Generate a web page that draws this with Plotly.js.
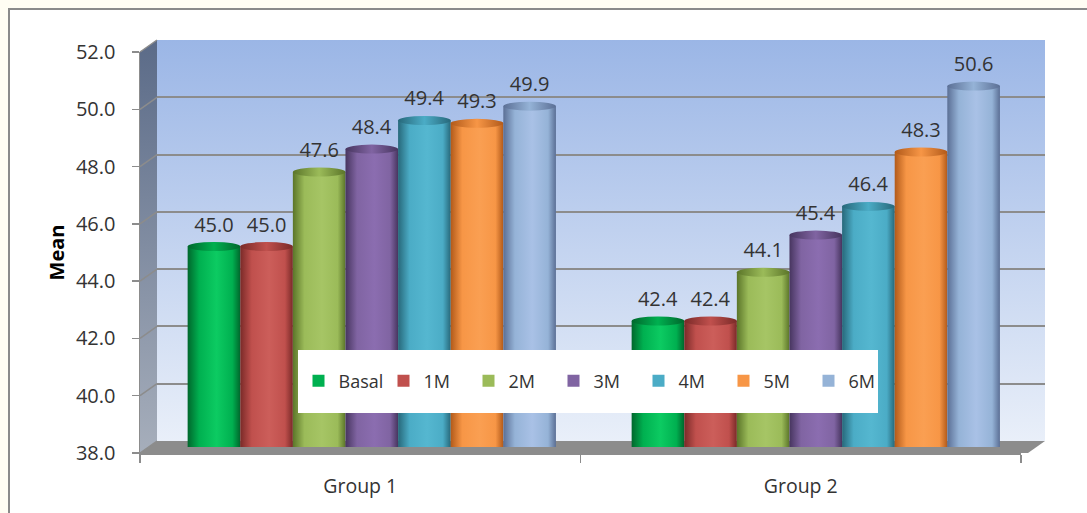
<!DOCTYPE html>
<html>
<head>
<meta charset="utf-8">
<script src="https://cdn.plot.ly/plotly-3.0.1.min.js"></script>
<style>
  html, body { margin: 0; padding: 0; background: #fffdf3; }
  #chart { width: 1087px; height: 513px; }
</style>
</head>
<body>
<div id="chart"></div>
<script>
// ---- data ----
const groups = ["Group 1", "Group 2"];
const seriesNames = ["Basal", "1M", "2M", "3M", "4M", "5M", "6M"];
const basal = [45.0, 42.4];
const m1 = [45.0, 42.4];
const m2 = [47.6, 44.1];
const m3 = [48.4, 45.4];
const m4 = [49.4, 46.4];
const m5 = [49.3, 48.3];
const m6 = [49.9, 50.6];
const yTicks = [38, 40, 42, 44, 46, 48, 50, 52];

// ---- styles ----
const seriesValues = [basal, m1, m2, m3, m4, m5, m6];
const baseColors = ["#00b050", "#c0504d", "#9bbb59", "#8064a2", "#4bacc6", "#f79646", "#95b3d7"];
const darkColors = ["#00672c", "#7a2a28", "#5b7529", "#47355f", "#27687a", "#b25a1a", "#5b6f95"];
const lightColors = ["#0ccb62", "#cc5e5a", "#a6c565", "#8b6db0", "#55b7d0", "#fa9f52", "#a9c1e6"];

const FONT = "Open Sans, Noto Sans, sans-serif";
const W = 905, H = 413;          // plot box (back wall + front axis)
const DX = 17 / W, DY = 12 / H;  // 3D depth offset
const FX = 881 / W, FY = 401 / H; // front axis extent
const MY = 6 / H;                 // mid-depth (bars)

const barW = 0.1185, barStart = -0.431;

const data = seriesValues.map((vals, i) => ({
  type: "bar",
  name: seriesNames[i],
  x: groups,
  y: vals,
  xaxis: "x", yaxis: "y3",
  width: barW,
  offset: barStart + i * barW,
  marker: { color: baseColors[i], line: { width: 0 } },
  texttemplate: "%{y:.1f}",
  textposition: "outside",
  cliponaxis: false,
  textfont: { family: FONT, size: 20, color: "#333333" },
  hoverinfo: "skip"
}));
// axis carriers (no marks)
data.push({ type: "scatter", mode: "markers", x: groups, y: [null, null],
  xaxis: "x", yaxis: "y", showlegend: false, hoverinfo: "skip" });
data.push({ type: "scatter", mode: "markers", x: groups, y: [null, null],
  xaxis: "x2", yaxis: "y2", showlegend: false, hoverinfo: "skip" });

const shapes = [];
// 0: outer border
shapes.push({ type: "rect", xref: "paper", yref: "paper", x0: (9 - 140) / W, x1: 1.2, y0: -0.3, y1: (453 - 9) / H,
  line: { color: "#8a8a8a", width: 2 }, fillcolor: "#ffffff", layer: "below" });
// 1: back wall
shapes.push({ type: "rect", xref: "paper", yref: "paper", x0: DX, x1: 1, y0: DY, y1: 1,
  line: { width: 0 }, fillcolor: "#c4d4f0", layer: "below" });
// 2: left wall
shapes.push({ type: "path", xref: "paper", yref: "paper",
  path: `M 0 0 L ${DX} ${DY} L ${DX} 1 L 0 ${FY} Z`,
  line: { width: 0 }, fillcolor: "#7d889c", layer: "below" });
// 3: floor
shapes.push({ type: "path", xref: "paper", yref: "paper",
  path: `M 0 0 L ${(1028 - 140) / W} 0 L 1 ${DY} L ${DX} ${DY} Z`,
  line: { width: 0 }, fillcolor: "#8c8c8c", layer: "below" });
// diagonal connectors from front ticks to back gridlines
yTicks.forEach(v => {
  const f = (v - 38) / 14 * FY;
  shapes.push({ type: "line", xref: "paper", yref: "paper", x0: 0, y0: f, x1: DX, y1: f + DY,
    line: { color: "#8c8c8c", width: 1.5 }, layer: "below" });
});
// legend box
shapes.push({ type: "rect", xref: "paper", yref: "paper",
  x0: (298 - 140) / W, x1: (878 - 140) / W, y0: (453 - 413) / H, y1: (453 - 350) / H,
  line: { width: 0 }, fillcolor: "#ffffff", layer: "above" });

const layout = {
  width: 1087, height: 513,
  margin: { l: 140, r: 42, t: 40, b: 60 },
  paper_bgcolor: "#fffdf3",
  plot_bgcolor: "rgba(0,0,0,0)",
  barmode: "overlay",
  showlegend: true,
  font: { family: FONT, color: "#333333" },
  xaxis: { type: "category", categoryarray: groups, range: [-0.5, 1.5], domain: [DX, 1],
    anchor: "y", visible: false, showgrid: false },
  yaxis: { range: [38, 52], domain: [DY, 1], anchor: "x", tickvals: yTicks,
    showticklabels: false, ticks: "", showline: false, zeroline: false,
    showgrid: true, gridcolor: "#8c8c8c", gridwidth: 2 },
  yaxis3: { range: [38, 52], domain: [MY, FY + MY], anchor: "x", visible: false,
    showgrid: false, zeroline: false },
  xaxis2: { type: "category", categoryarray: groups, range: [-0.5, 1.5], domain: [0, FX],
    anchor: "y2", showgrid: false, zeroline: false, showline: true, linecolor: "#8c8c8c", linewidth: 1.5,
    ticks: "outside", tickson: "boundaries", ticklen: 8, tickcolor: "#8c8c8c", tickwidth: 1.5,
    ticklabelstandoff: 15, tickfont: { family: FONT, size: 19.5, color: "#333333" } },
  yaxis2: { range: [38, 52], domain: [0, FY], anchor: "x2", tickvals: yTicks, tickformat: ".1f",
    showgrid: false, zeroline: false, showline: true, linecolor: "#8c8c8c", linewidth: 1.5,
    ticks: "outside", ticklen: 7, tickcolor: "#8c8c8c", tickwidth: 1.5,
    ticklabelstandoff: 12, tickfont: { family: FONT, size: 20, color: "#333333" },
    title: { text: "Mean", standoff: 6, font: { family: FONT, size: 20, color: "#000000", weight: "bold" } } },
  legend: { orientation: "h", x: (596 - 140) / W, xanchor: "center", y: (453 - 381) / H, yanchor: "middle",
    bgcolor: "rgba(0,0,0,0)", borderwidth: 0, font: { family: FONT, size: 18, color: "#333333" },
    itemwidth: 30, entrywidth: 40, entrywidthmode: "pixels", traceorder: "normal" },
  shapes: shapes
};

const gd = document.getElementById("chart");
Plotly.newPlot(gd, data, layout, { staticPlot: true, displayModeBar: false }).then(() => {
  const NS = "http://www.w3.org/2000/svg";
  const svg = gd.querySelector(".main-svg");
  let defs = svg.querySelector("defs");
  if (!defs) { defs = document.createElementNS(NS, "defs"); svg.insertBefore(defs, svg.firstChild); }
  function grad(id, stops, vertical) {
    const g = document.createElementNS(NS, "linearGradient");
    g.setAttribute("id", id);
    g.setAttribute("x1", "0"); g.setAttribute("y1", "0");
    g.setAttribute("x2", vertical ? "0" : "1"); g.setAttribute("y2", vertical ? "1" : "0");
    stops.forEach(([o, c]) => {
      const s = document.createElementNS(NS, "stop");
      s.setAttribute("offset", o); s.setAttribute("stop-color", c);
      g.appendChild(s);
    });
    defs.appendChild(g);
  }
  grad("wallGrad", [[0, "#9bb6e6"], [1, "#e9eff9"]], true);
  grad("leftGrad", [[0, "#5b6b88"], [1, "#a6aebb"]], true);
  baseColors.forEach((c, i) => {
    grad("cyl" + i, [[0, darkColors[i]], [0.22, c], [0.55, lightColors[i]], [0.85, c], [1, darkColors[i]]], false);
    grad("top" + i, [[0, darkColors[i]], [0.5, c], [1, darkColors[i]]], false);
  });
  gd.querySelectorAll("path[data-index]").forEach(p => {
    const idx = p.getAttribute("data-index");
    if (idx === "1") p.style.fill = "url(#wallGrad)";
    if (idx === "2") p.style.fill = "url(#leftGrad)";
  });
  gd.querySelectorAll(".barlayer .trace").forEach((tr, i) => {
    tr.querySelectorAll("g.point").forEach(pt => {
      const p = pt.querySelector("path");
      if (!p) return;
      p.style.fill = "url(#cyl" + i + ")";
      const bb = p.getBBox();
      const e = document.createElementNS(NS, "ellipse");
      e.setAttribute("cx", bb.x + bb.width / 2);
      e.setAttribute("cy", bb.y);
      e.setAttribute("rx", bb.width / 2);
      e.setAttribute("ry", 4.5);
      e.style.fill = "url(#top" + i + ")";
      pt.insertBefore(e, p.nextSibling);
      const t = pt.querySelector("text.bartext");
      if (t) t.setAttribute("transform", (t.getAttribute("transform") || "") + " translate(0,-6)");
    });
  });
});
</script>
</body>
</html>
